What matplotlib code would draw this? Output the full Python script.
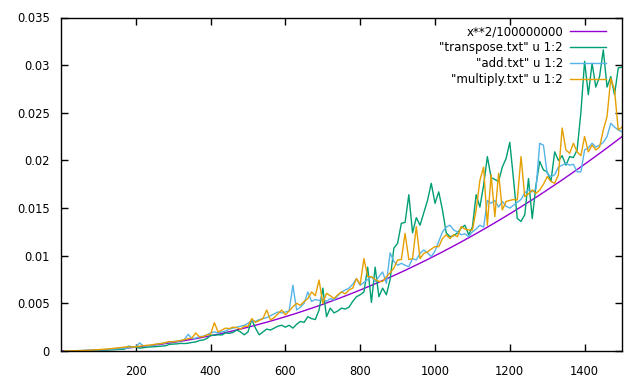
import numpy as np
import matplotlib
matplotlib.use("Agg")
import matplotlib.pyplot as plt

# x positions of the measured data files
x_start, x_stop, x_step = 10, 1500, 10

# values in units of 1e-3
transpose_ms = [
    0.0, 0.0, 0.01, 0.01, 0.02, 0.02, 0.03, 0.04, 0.05, 0.06,
    0.08, 0.09, 0.11, 0.13, 0.15, 0.18, 0.2, 0.5, 0.45, 0.42,
    0.3, 0.35, 0.4, 0.42, 0.45, 0.48, 0.5, 0.55, 0.7, 0.72,
    0.75, 0.8, 0.78, 0.82, 0.9, 0.95, 1.1, 1.15, 1.3, 1.65,
    1.65, 1.7, 1.68, 1.9, 1.85, 1.95, 2.2, 2.0, 1.7, 2.0,
    3.3, 2.4, 1.7, 2.0, 2.3, 2.2, 2.4, 2.6, 2.7, 2.5,
    2.7, 2.4, 2.8, 3.1, 3.0, 3.6, 3.4, 3.3, 4.3, 6.6,
    3.6, 4.5, 4.0, 4.2, 4.5, 4.4, 4.6, 5.2, 5.7, 5.9,
    6.2, 8.8, 5.1, 8.8, 5.7, 6.6, 5.9, 7.5, 10.8, 11.3,
    13.4, 13.5, 16.4, 12.4, 14.0, 13.2, 14.5, 15.8, 17.6, 15.5,
    16.7, 14.8, 12.4, 12.0, 12.1, 12.4, 12.9, 13.2, 12.2, 13.0,
    16.4, 15.1, 17.4, 20.4, 18.2, 18.0, 17.8, 19.3, 20.2, 21.9,
    18.0, 13.9, 13.6, 14.3, 18.1, 13.9, 17.4, 19.9, 19.0, 18.8,
    17.8, 20.9, 20.0, 20.5, 19.5, 20.4, 20.3, 21.1, 25.0, 30.4,
    26.9, 30.2, 27.7, 28.8, 31.6, 27.7, 28.8, 26.9, 29.7, 29.8,
]
add_ms = [
    0.0, 0.01, 0.01, 0.02, 0.03, 0.04, 0.05, 0.07, 0.09, 0.11,
    0.13, 0.15, 0.18, 0.2, 0.23, 0.26, 0.3, 0.33, 0.37, 0.42,
    0.85, 0.55, 0.52, 0.6, 0.65, 0.75, 0.8, 0.85, 0.95, 1.0,
    1.0, 1.1, 1.2, 1.75, 1.3, 1.35, 1.5, 1.55, 1.7, 1.9,
    2.0, 1.9, 2.0, 2.1, 2.3, 2.4, 2.5, 2.6, 2.7, 2.9,
    3.2, 3.1, 3.3, 3.4, 3.5, 3.7, 3.9, 4.1, 4.0, 4.1,
    4.2, 6.9, 4.3, 4.6, 5.0, 6.2, 5.2, 5.4, 5.3, 5.5,
    5.2, 5.5, 5.35, 5.8, 6.2, 6.4, 6.6, 7.0, 7.6, 6.9,
    7.2, 7.5, 7.8, 7.3, 7.8, 8.3, 7.1, 10.3, 9.4, 9.0,
    9.2, 9.0, 8.85, 9.7, 9.55, 10.25, 10.6, 10.3, 9.9, 10.5,
    11.5, 12.5, 13.0, 13.2, 12.7, 12.5, 12.2, 12.3, 12.0, 12.5,
    12.8, 13.2, 13.0, 15.8, 15.5, 15.8, 15.1, 15.7, 15.2, 15.0,
    15.3, 15.6, 15.9, 16.6, 16.9, 16.7, 17.0, 21.8, 21.6, 18.6,
    18.3, 18.5, 19.3, 19.5, 19.7, 19.5, 19.6, 18.8, 18.8, 21.1,
    21.3, 21.8, 21.4, 21.6, 21.9, 22.5, 23.9, 23.5, 23.2, 23.0,
]
multiply_ms = [
    0.0, 0.01, 0.02, 0.03, 0.04, 0.05, 0.07, 0.09, 0.11, 0.14,
    0.17, 0.2, 0.23, 0.28, 0.32, 0.36, 0.4, 0.45, 0.42, 0.45,
    0.5, 0.55, 0.6, 0.62, 0.7, 0.75, 0.8, 0.9, 1.0, 0.95,
    1.05, 1.1, 1.2, 1.3, 1.35, 1.9, 1.5, 1.5, 1.7, 1.75,
    2.97, 2.0, 2.2, 2.4, 2.35, 2.5, 2.45, 2.3, 2.6, 2.6,
    3.4, 3.0, 3.2, 3.4, 4.3, 3.25, 3.5, 3.9, 4.3, 3.8,
    4.2, 4.65, 5.0, 4.8, 5.2, 5.5, 6.2, 5.8, 7.45, 5.0,
    6.05, 5.8, 5.5, 5.9, 6.2, 6.0, 6.4, 6.6, 7.6, 7.0,
    9.7, 7.8, 7.8, 7.5, 7.3, 7.3, 7.8, 8.2, 8.7, 9.55,
    9.6, 12.35, 9.6, 9.7, 13.05, 9.7, 10.25, 10.4, 10.7, 10.95,
    10.95, 11.8, 12.2, 11.8, 12.2, 12.0, 13.05, 12.8, 12.7, 12.7,
    14.8, 17.9, 19.3, 13.2, 18.5, 14.1, 18.65, 14.8, 15.7, 15.8,
    15.9, 15.85, 20.4, 16.2, 16.5, 16.9, 16.55, 16.9, 17.5, 18.3,
    17.8, 17.6, 18.5, 23.4, 21.1, 20.75, 21.8, 20.9, 20.5, 22.5,
    20.9, 21.6, 21.1, 21.4, 23.2, 24.6, 28.6, 27.4, 23.2, 23.5,
]

xticks = [200, 400, 600, 800, 1000, 1200, 1400]
yticks = [0, 0.005, 0.01, 0.015, 0.02, 0.025, 0.03, 0.035]
ytick_labels = ["0", "0.005", "0.01", "0.015", "0.02", "0.025", "0.03", "0.035"]
labels = ['x**2/100000000', '"transpose.txt" u 1:2', '"add.txt" u 1:2', '"multiply.txt" u 1:2']

x = np.arange(x_start, x_stop + 1, x_step)
transpose = np.array(transpose_ms) * 1e-3
add = np.array(add_ms) * 1e-3
multiply = np.array(multiply_ms) * 1e-3
fx = np.linspace(0, 1500, 100)
fy = fx ** 2 / 100000000

plt.rcParams['font.family'] = ['DejaVu Sans']
fig = plt.figure(figsize=(6.4, 3.84), dpi=100)
ax = fig.add_axes([61 / 640, 1 - 351 / 384, 561 / 640, 333.5 / 384])

lw = 1.0
ax.plot(fx, fy, color='#9400d3', lw=lw, label=labels[0])
ax.plot(x, transpose, color='#009e73', lw=lw, label=labels[1])
ax.plot(x, add, color='#56b4e9', lw=lw, label=labels[2])
ax.plot(x, multiply, color='#e69f00', lw=lw, label=labels[3])

ax.set_xlim(0, 1500)
ax.set_ylim(0, 0.035)
ax.set_xticks(xticks)
ax.set_xticklabels([str(t) for t in xticks])
ax.set_yticks(yticks)
ax.set_yticklabels(ytick_labels)
ax.tick_params(direction='in', top=True, right=True, length=5, width=1,
               labelsize=8.3, pad=8, colors='black')
ax.tick_params(axis='x', pad=10)
for s in ax.spines.values():
    s.set_linewidth(1)
    s.set_color('black')

leg = ax.legend(loc='upper right', bbox_to_anchor=(0.985, 1.0), frameon=False,
                markerfirst=False, fontsize=8.5, handlelength=3.0,
                labelspacing=0.24, handletextpad=0.6, borderaxespad=0.28)
for t in leg.get_texts():
    t.set_ha('right')

fig.savefig('out.png', dpi=100)
